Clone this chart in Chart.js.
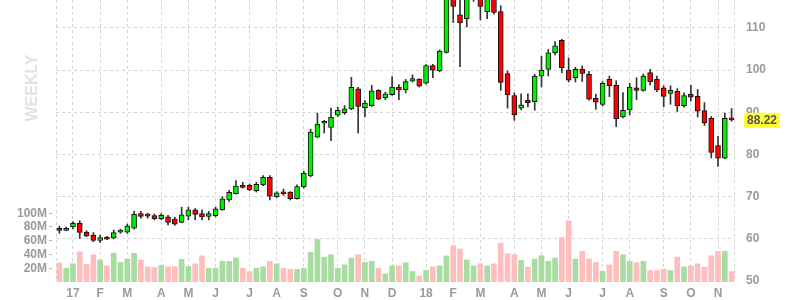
<!DOCTYPE html>
<html>
<head>
<meta charset="utf-8">
<script src="https://cdn.jsdelivr.net/npm/chart.js@4/dist/chart.umd.min.js"></script>
<style>
  html, body { margin: 0; padding: 0; background: #fff; }
  #wrap { width: 800px; height: 300px; }
</style>
</head>
<body>
<div id="wrap"><canvas id="weekChart" width="800" height="300"></canvas></div>
<script>
// weekly bars, Dec 2016 -> Nov 2018 (month initials under the first week of each month)
var weeks = [
  '', '', '17', '', '', '', 'F', '', '', '',
  'M', '', '', '', '', 'A', '', '', '', 'M',
  '', '', '', 'J', '', '', '', '', 'J', '',
  '', '', 'A', '', '', '', 'S', '', '', '',
  '', 'O', '', '', '', 'N', '', '', '', 'D',
  '', '', '', '', '18', '', '', '', 'F', '',
  '', '', 'M', '', '', '', '', 'A', '', '',
  '', 'M', '', '', '', 'J', '', '', '', '',
  'J', '', '', '', 'A', '', '', '', '', 'S',
  '', '', '', 'O', '', '', '', 'N', '', ''
];

var opens = [
  62.1, 62.0, 62.8, 63.7, 61.6, 60.8, 59.6, 60.4, 60.2, 61.6,
  61.6, 62.5, 66.0, 65.5, 65.5, 64.8, 65.2, 64.7, 63.9, 65.4,
  66.9, 66.0, 65.3, 65.5, 66.9, 69.2, 70.7, 72.7, 72.7, 71.4,
  72.8, 74.6, 70.0, 71.0, 71.1, 69.5, 72.3, 74.9, 84.1, 87.4,
  86.4, 89.3, 89.9, 90.8, 95.6, 91.1, 91.6, 95.2, 93.5, 94.2,
  96.0, 95.4, 97.4, 97.8, 96.9, 101.1, 99.8, 104.2, 118.0, 113.1,
  112.2, 117.5, 117.0, 113.9, 117.0, 113.9, 99.2, 94.0, 91.0, 92.9,
  92.5, 98.6, 100.2, 104.1, 107.1, 100.0, 98.2, 100.2, 99.0, 93.3,
  91.9, 97.8, 96.4, 88.9, 90.6, 95.8, 95.2, 99.4, 97.8, 95.8,
  94.5, 95.0, 91.6, 94.3, 93.8, 90.4, 88.6, 82.1, 79.1, 88.7
];
var highs = [
  63.0, 62.8, 64.1, 64.3, 61.9, 61.5, 60.9, 60.6, 62.1, 62.3,
  63.5, 66.5, 66.5, 66.1, 65.9, 66.0, 65.6, 65.1, 67.5, 67.5,
  67.2, 66.9, 66.5, 67.5, 70.0, 71.5, 73.8, 73.4, 73.0, 73.4,
  75.0, 75.0, 71.2, 71.8, 71.2, 72.8, 76.0, 86.0, 89.8, 88.1,
  91.0, 91.2, 91.6, 98.3, 95.9, 92.8, 96.4, 95.4, 94.8, 98.5,
  96.6, 97.8, 98.9, 98.0, 101.3, 101.4, 104.8, 118.5, 119.0, 117.5,
  118.5, 120.5, 118.0, 118.5, 118.0, 115.3, 99.8, 94.6, 94.4, 94.4,
  99.0, 103.3, 104.9, 106.8, 107.3, 102.9, 100.7, 101.0, 99.7, 94.3,
  97.3, 98.6, 97.5, 94.7, 96.9, 98.2, 99.1, 100.2, 98.6, 96.3,
  96.3, 95.6, 94.6, 96.4, 95.4, 92.3, 89.0, 84.3, 89.8, 90.9
];
var lows = [
  61.3, 61.9, 62.4, 60.1, 60.5, 59.3, 59.1, 59.8, 60.0, 61.3,
  61.3, 62.3, 64.9, 64.9, 64.5, 64.5, 63.3, 63.2, 63.8, 64.5,
  64.5, 64.5, 64.5, 65.2, 66.7, 68.9, 70.6, 72.0, 71.4, 71.1,
  72.6, 69.2, 69.8, 70.3, 69.2, 69.4, 72.0, 74.7, 84.0, 85.1,
  83.3, 89.0, 89.5, 90.6, 85.1, 88.9, 91.4, 93.0, 93.0, 94.0,
  93.0, 94.6, 97.2, 96.0, 96.7, 98.2, 99.6, 104.0, 111.3, 100.8,
  110.3, 116.3, 111.9, 112.2, 113.3, 95.2, 91.0, 88.1, 90.6, 91.3,
  90.5, 96.0, 98.6, 103.6, 99.4, 97.2, 97.2, 97.3, 92.9, 90.7,
  91.5, 93.7, 86.6, 88.7, 89.4, 93.0, 95.0, 96.5, 94.9, 91.3,
  91.9, 90.2, 91.2, 92.7, 88.9, 86.9, 79.2, 77.2, 79.0, 87.9
];
var closes = [
  62.0, 62.5, 63.7, 61.5, 60.7, 59.6, 60.3, 59.9, 61.5, 62.1,
  63.1, 65.8, 65.3, 65.4, 64.7, 65.6, 63.9, 63.5, 65.7, 66.9,
  65.8, 65.2, 66.0, 67.1, 69.5, 71.0, 72.5, 72.2, 71.6, 72.9,
  74.6, 70.1, 70.9, 70.7, 69.5, 72.4, 75.6, 85.3, 87.2, 87.5,
  88.9, 90.5, 90.8, 95.9, 91.4, 92.2, 95.1, 93.1, 94.4, 96.0,
  95.3, 97.3, 98.0, 96.2, 101.1, 100.0, 104.5, 117.5, 115.1, 111.2,
  117.0, 119.0, 115.1, 117.2, 113.7, 97.1, 94.1, 89.4, 91.8, 92.3,
  98.6, 100.0, 104.1, 105.8, 100.6, 97.6, 100.2, 99.2, 93.1, 92.4,
  96.9, 96.3, 88.5, 90.5, 96.0, 95.2, 98.6, 97.3, 95.3, 93.8,
  95.2, 91.5, 94.0, 93.6, 90.3, 87.5, 80.5, 79.1, 88.6, 88.22
];
// weekly volume, millions of shares
var volumes = [
  27.5, 20, 26.5, 44, 25.5, 39.7, 32, 23.5, 42, 28.4,
  33.3, 41.7, 32, 22, 21, 24, 22, 22.5, 33, 22.5,
  26.5, 38, 20, 20, 30, 30, 35, 20, 15, 20,
  22, 30, 26.5, 20, 18.6, 18.6, 20, 43, 61.8, 36,
  39.7, 20, 25, 34.8, 39.7, 28.4, 30, 20, 11.8, 23.5,
  23.5, 28, 15.2, 8.8, 17, 22, 23.5, 38, 53, 48,
  32, 23.5, 26.5, 23.5, 26.5, 56.5, 41, 39.7, 31.4, 21.6,
  33.3, 38.2, 30, 34.8, 64.5, 88.7, 33.3, 44.6, 33.3, 28.4,
  15.2, 25, 44.6, 39.7, 30, 28, 30, 16.7, 16.7, 18.6,
  16.7, 36.3, 22, 23.5, 26.5, 21.6, 38.2, 44.6, 44.6, 15.2
];

var priceTicks = [50, 60, 70, 80, 90, 100, 110];
var volumeTicks = [20, 40, 60, 80, 100];
var lastPrice = 88.22;

var upColor = '#00ee00';
var downColor = '#ff0000';
var volUp = '#a8dca0';
var volDown = '#ffbdbd';
var gridColor = '#d4d4d4';
var labelColor = '#9a9a9a';
var labelFont = { family: "Arial, 'Liberation Sans', sans-serif", size: 12, weight: 'bold' };

var bodies = [], wicks = [], bodyColors = [], volColors = [];
for (var i = 0; i < closes.length; i++) {
    bodies.push([opens[i], closes[i]]);
    wicks.push([lows[i], highs[i]]);
    var up = closes[i] >= opens[i];
    bodyColors.push(up ? upColor : downColor);
    volColors.push(up ? volUp : volDown);
}

var overlay = {
    id: 'overlay',
    beforeDatasetsDraw: function(chart) {
        var a = chart.chartArea, ctx = chart.ctx;
        ctx.save();
        ctx.strokeStyle = gridColor;
        ctx.lineWidth = 1;
        ctx.setLineDash([3, 3]);
        ctx.beginPath();
        ctx.moveTo(a.left + 0.5, a.top);
        ctx.lineTo(a.left + 0.5, a.bottom);
        ctx.moveTo(a.right - 0.5, a.top);
        ctx.lineTo(a.right - 0.5, a.bottom);
        ctx.stroke();
        ctx.restore();
    },
    afterDraw: function(chart) {
        var a = chart.chartArea, ctx = chart.ctx;
        ctx.save();
        // faint period tag
        ctx.translate(a.left - 23, a.top + 88);
        ctx.rotate(-Math.PI / 2);
        ctx.font = "bold 16px Arial, 'Liberation Sans', sans-serif";
        ctx.fillStyle = '#e2e2e2';
        ctx.textAlign = 'center';
        ctx.textBaseline = 'middle';
        ctx.fillText('WEEKLY', 0, 0);
        ctx.restore();

        // last price tag on the right axis
        var y = chart.scales.y.getPixelForValue(lastPrice);
        var txt = lastPrice.toFixed(2);
        ctx.save();
        ctx.font = "bold 12px Arial, 'Liberation Sans', sans-serif";
        var w = ctx.measureText(txt).width;
        ctx.fillStyle = '#ffff33';
        ctx.fillRect(a.right + 9, y - 7, w + 6, 15);
        ctx.fillStyle = '#555';
        ctx.textBaseline = 'middle';
        ctx.fillText(txt, a.right + 12, y + 1);
        ctx.restore();
    }
};

function noPad(s) {
    s.paddingTop = 0;
    s.paddingBottom = 0;
    s.paddingLeft = 0;
    s.paddingRight = 0;
}

var weekChart = new Chart("weekChart", {
    type: "bar",
    data: {
        labels: weeks,
        datasets: [{
            data: bodies,
            yAxisID: 'y',
            backgroundColor: bodyColors,
            borderColor: '#111',
            borderWidth: 1,
            borderSkipped: false,
            barThickness: 5,
            minBarLength: 2,
            grouped: false,
            order: 0
        }, {
            data: wicks,
            yAxisID: 'y',
            backgroundColor: '#333',
            barThickness: 1,
            grouped: false,
            order: 1
        }, {
            data: volumes,
            yAxisID: 'vol',
            backgroundColor: volColors,
            barThickness: 5,
            grouped: false,
            order: 2
        }]
    },
    options: {
        responsive: false,
        animation: false,
        layout: { padding: 0 },
        plugins: {
            legend: { display: false },
            tooltip: { enabled: false }
        },
        scales: {
            x: {
                offset: true,
                grid: {
                    offset: false,
                    drawTicks: false,
                    color: function(c) { return weeks[c.index] ? gridColor : 'rgba(0,0,0,0)'; }
                },
                border: { display: false, dash: [3, 3] },
                ticks: {
                    autoSkip: false,
                    maxRotation: 0,
                    padding: 4,
                    color: labelColor,
                    font: labelFont
                },
                afterFit: function(s) { s.height = 18; noPad(s); }
            },
            y: {
                position: 'right',
                min: 49.76,
                max: 116.64,
                grid: {
                    drawTicks: false,
                    color: function(c) { return c.tick && c.tick.value === 50 ? 'rgba(0,0,0,0)' : gridColor; }
                },
                border: { display: false, dash: [3, 3] },
                ticks: { padding: 11, color: labelColor, font: labelFont },
                afterBuildTicks: function(s) { s.ticks = priceTicks.map(function(v) { return { value: v }; }); },
                afterFit: function(s) { s.width = 65; noPad(s); }
            },
            vol: {
                position: 'left',
                min: 0,
                max: 410,
                grid: {
                    drawOnChartArea: false,
                    drawTicks: true,
                    tickLength: 7,
                    tickColor: '#b0b0b0',
                    tickBorderDash: [3, 4]
                },
                border: { display: false },
                ticks: {
                    padding: 2,
                    color: labelColor,
                    font: labelFont,
                    callback: function(v) { return v + 'M'; }
                },
                afterBuildTicks: function(s) { s.ticks = volumeTicks.map(function(v) { return { value: v }; }); },
                afterFit: function(s) { s.width = 56; noPad(s); }
            }
        }
    },
    plugins: [overlay]
});
</script>
</body>
</html>
